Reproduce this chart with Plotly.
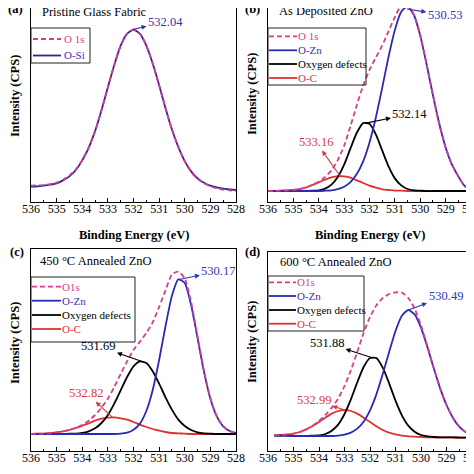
import plotly.graph_objects as go

W = H = 474
FONT = "Liberation Serif"

# ---------------- data (intensity in arbitrary units) -------------
energy = [536.0, 535.75, 535.5, 535.25, 535.0, 534.75, 534.5, 534.25, 534.0, 533.75,
          533.5, 533.25, 533.0, 532.75, 532.5, 532.25, 532.0, 531.75, 531.5, 531.25,
          531.0, 530.75, 530.5, 530.25, 530.0, 529.75, 529.5, 529.25, 529.0, 528.75,
          528.5, 528.25, 528.0]
energy_d = [535.75, 535.5, 535.25, 535.0, 534.75, 534.5, 534.25, 534.0, 533.75,
            533.5, 533.25, 533.0, 532.75, 532.5, 532.25, 532.0, 531.75, 531.5, 531.25,
            531.0, 530.75, 530.5, 530.25, 530.0, 529.75, 529.5, 529.25, 529.0, 528.75,
            528.5, 528.25, 528.0]

# (a) Pristine glass fabric
a_o1s = [49, 50, 51, 54, 58, 67, 80, 98, 126, 164, 213, 276, 345, 412, 470, 505, 517,
         505, 471, 416, 351, 282, 218, 165, 122, 90, 69, 56, 47, 41, 37, 35, 33]
a_osi = [46, 47, 49, 52, 56, 65, 77, 96, 125, 163, 213, 276, 345, 412, 470, 506, 518,
         505, 470, 416, 351, 282, 218, 165, 123, 92, 71, 58, 49, 44, 40, 38, 36]

# (b) As deposited ZnO
b_o1s = [33, 33, 34, 35, 36, 39, 44, 52, 61, 75, 95, 126, 169, 228, 291, 350, 397,
         434, 470, 513, 556, 590, 594, 564, 501, 414, 321, 235, 164, 112, 77, 48, 38]
b_ozn = [33, 33, 33, 33, 33, 33, 33, 33, 33, 34, 35, 39, 46, 60, 84, 122, 179,
         254, 343, 436, 517, 572, 588, 562, 500, 414, 321, 235, 164, 112, 77, 48, 38]
b_def = [33, 33, 33, 33, 33, 33, 33, 34, 35, 40, 52, 75, 112, 161, 208, 237, 235,
         203, 155, 107, 71, 50, 39, 35, 34, 33, 33, 33, 33, 33, 33, 33, 33]
b_oc = [33, 33, 34, 35, 36, 39, 44, 51, 59, 67, 74, 78, 77, 73, 65, 57, 49,
        43, 38, 36, 34, 34, 33, 33, 33, 33, 33, 33, 33, 33, 33, 33, 33]

# (c) 450 °C annealed ZnO
c_o1s = [51, 52, 52, 54, 56, 59, 64, 70, 79, 91, 108, 130, 157, 192, 231, 269, 303,
         328, 354, 386, 432, 482, 530, 538, 518, 446, 344, 240, 158, 104, 74, 60, 54]
c_ozn = [51, 51, 51, 51, 51, 51, 51, 51, 51, 51, 51, 51, 51, 51, 52, 55, 64,
         82, 120, 183, 273, 375, 466, 515, 504, 437, 339, 238, 157, 104, 74, 60, 54]
c_def = [51, 51, 51, 51, 51, 51, 52, 52, 54, 59, 68, 84, 108, 142, 182, 222, 254,
         269, 264, 239, 202, 161, 124, 94, 75, 63, 56, 53, 52, 51, 51, 51, 51]
c_oc = [51, 52, 52, 54, 56, 59, 63, 69, 76, 83, 91, 97, 100, 101, 98, 94, 87,
        79, 72, 66, 61, 57, 54, 53, 52, 51, 51, 51, 51, 51, 51, 51, 51]

# (d) 600 °C annealed ZnO
d_o1s = [47, 48, 50, 52, 57, 65, 76, 90, 108, 130, 157, 195, 242, 297, 354, 402,
         437, 459, 471, 476, 475, 459, 427, 377, 314, 249, 188, 138, 100, 73, 57, 48]
d_ozn = [46, 46, 46, 45, 45, 45, 45, 45, 45, 45, 46, 49, 55, 67, 88, 122,
         170, 231, 297, 360, 406, 423, 410, 370, 312, 248, 188, 138, 100, 73, 57, 48]
d_def = [46, 46, 46, 45, 45, 45, 46, 47, 51, 61, 79, 111, 155, 206, 252, 279,
         279, 250, 203, 151, 107, 76, 58, 48, 44, 42, 41, 41, 41, 40, 40, 40]
d_oc = [47, 48, 49, 52, 57, 65, 75, 87, 100, 112, 120, 123, 120, 112, 100, 87,
        74, 63, 55, 50, 46, 44, 43, 42, 41, 41, 41, 41, 41, 40, 40, 40]

# peak positions (eV) labelled in each panel
peaks_a = [532.04]
peaks_b = [530.53, 532.14, 533.16]
peaks_c = [530.17, 531.69, 532.82]
peaks_d = [530.49, 531.88, 532.99]

panel_titles = ["Pristine Glass Fabric", "As Deposited ZnO",
                "450 °C Annealed ZnO", "600 °C Annealed ZnO"]
panel_tags = ["(a)", "(b)", "(c)", "(d)"]
x_ticks = [536, 535, 534, 533, 532, 531, 530, 529, 528]
x_title = "Binding Energy (eV)"
y_title = "Intensity (CPS)"

# ---------------- styles -------------
C_O1S = "#d63e8c"
C_OSI = "#28289a"
C_OZN = "#2a2ab4"
C_DEF = "#000000"
C_OC = "#e03131"
C_LBL_BLUE = "#3434b0"
C_LBL_RED = "#d83a3a"
LW = 1.8


def px(x):
    return x / W


def py(y):
    return 1 - y / H


# panel geometry in pixels: (left, right, top, bottom), y-range top
geom = [
    (23, 228, 0, 194, 583),
    (260, 463, 0, 194, 583),
    (23, 228, 241, 443, 606),
    (260, 464, 244, 443, 597),
]

fig = go.Figure()

series = [
    [(a_o1s, "O 1s", C_O1S, True, energy), (a_osi, "O-Si", C_OSI, False, energy)],
    [(b_o1s, "O 1s", C_O1S, True, energy), (b_ozn, "O-Zn", C_OZN, False, energy),
     (b_def, "Oxygen defects", C_DEF, False, energy), (b_oc, "O-C", C_OC, False, energy)],
    [(c_o1s, "O1s", C_O1S, True, energy), (c_ozn, "O-Zn", C_OZN, False, energy),
     (c_def, "Oxygen defects", C_DEF, False, energy), (c_oc, "O-C", C_OC, False, energy)],
    [(d_o1s, "O1s", C_O1S, True, energy_d), (d_ozn, "O-Zn", C_OZN, False, energy_d),
     (d_def, "Oxygen defects", C_DEF, False, energy_d), (d_oc, "O-C", C_OC, False, energy_d)],
]

for i, group in enumerate(series):
    sfx = "" if i == 0 else str(i + 1)
    order = group[1:][::-1] + [group[0]] if i > 0 else [group[1], group[0]]
    for vals, name, col, dashed, xs in order:
        fig.add_trace(go.Scatter(
            x=xs, y=vals, mode="lines", name=name, showlegend=False,
            line=dict(color=col, width=LW, dash="5px,3px" if dashed else "solid",
                      shape="spline", smoothing=0.6),
            xaxis="x" + sfx, yaxis="y" + sfx, hoverinfo="skip"))

layout = dict(
    width=W, height=H, margin=dict(l=0, r=0, t=0, b=0, pad=0, autoexpand=False),
    paper_bgcolor="white", plot_bgcolor="white", showlegend=False,
    font=dict(family=FONT, color="black", size=12),
)

for i, (l, r, t, b, ytop) in enumerate(geom):
    sfx = "" if i == 0 else str(i + 1)
    layout["xaxis" + sfx] = dict(
        domain=[px(l), px(r)], anchor="y" + sfx, range=[536, 528], autorange=False,
        showline=True, linecolor="black", linewidth=1.2, mirror=(i >= 2),
        ticks="inside", ticklen=4, tickwidth=1, tickcolor="black",
        tickvals=x_ticks, ticktext=[str(v) for v in x_ticks],
        minor=dict(dtick=0.5, tick0=528, ticks="inside", ticklen=2, tickwidth=1,
                   tickcolor="black"),
        tickfont=dict(family=FONT, size=12, color="black"), ticklabelstandoff=-5,
        showgrid=False, zeroline=False, automargin=False, fixedrange=True,
    )
    layout["yaxis" + sfx] = dict(
        domain=[py(b), py(t)], anchor="x" + sfx, range=[0, ytop], autorange=False,
        showline=True, linecolor="black", linewidth=1.2, mirror=True,
        ticks="", showticklabels=False, showgrid=False, zeroline=False,
        automargin=False, fixedrange=True,
    )

shapes = []
annotations = []

# axis titles
xt_y = [227, 227, 474, 474]
yt_pos = [(7, 88), (244, 86), (7, 335), (244, 334)]
for i, (l, r, t, b, ytop) in enumerate(geom):
    annotations.append(dict(text=x_title, x=px((l + r) / 2), y=py(xt_y[i]),
                            xref="paper", yref="paper", showarrow=False,
                            xanchor="center", yanchor="middle",
                            font=dict(family=FONT, size=12.5, weight="bold", color="black")))
    annotations.append(dict(text=y_title, x=px(yt_pos[i][0]), y=py(yt_pos[i][1]),
                            xref="paper", yref="paper", showarrow=False, textangle=-90,
                            xanchor="center", yanchor="middle",
                            font=dict(family=FONT, size=12.5, weight="bold", color="black")))

# panel tags and titles
tag_pos = [(7, 1), (244, 1), (9, 244), (244, 244)]
title_pos = [(32, 4), (269, 3), (30, 253), (270, 254)]
for i in range(4):
    annotations.append(dict(text=panel_tags[i], x=px(tag_pos[i][0]), y=py(tag_pos[i][1]),
                            xref="paper", yref="paper", showarrow=False,
                            xanchor="center", yanchor="middle",
                            font=dict(family=FONT, size=12.5, weight="bold", color="black")))
    annotations.append(dict(text=panel_titles[i], x=px(title_pos[i][0]), y=py(title_pos[i][1]),
                            xref="paper", yref="paper", showarrow=False,
                            xanchor="left", yanchor="middle",
                            font=dict(family=FONT, size=12.5, color="black")))

# manual legends: box (l, t, r, b), line x0, x1, text x, entry rows
legends = [
    ((23, 20, 82, 55), 25, 53, 55, [31, 47.5]),
    ((260, 20, 358, 77), 261, 289, 289, [28.3, 42.3, 56, 70]),
    ((23, 269, 127, 334), 24, 53, 53, [278.7, 292.7, 307, 321]),
    ((260, 268, 356, 323), 261, 288, 288, [274.3, 288, 302, 315.7]),
]
for i, (box, lx0, lx1, tx, rows) in enumerate(legends):
    shapes.append(dict(type="rect", xref="paper", yref="paper",
                       x0=px(box[0]), x1=px(box[2]), y0=py(box[3]), y1=py(box[1]),
                       line=dict(color="#222222", width=1), fillcolor="rgba(0,0,0,0)"))
    for (vals, name, col, dashed, xs), ry in zip(series[i], rows):
        shapes.append(dict(type="line", xref="paper", yref="paper",
                           x0=px(lx0), x1=px(lx1), y0=py(ry), y1=py(ry),
                           line=dict(color=col, width=LW, dash="5px,3px" if dashed else "solid")))
        annotations.append(dict(text=name, x=px(tx), y=py(ry), xref="paper", yref="paper",
                                showarrow=False, xanchor="left", yanchor="middle", borderpad=0,
                                font=dict(family=FONT, size=11, color=(
                                    C_LBL_BLUE if col in (C_OZN, C_OSI) else col))))

# peak labels with arrows (arrowhead at the label end)
label_specs = [
    (0, peaks_a[0], a_osi, C_LBL_BLUE, 33, -8),
    (1, peaks_b[0], b_ozn, C_LBL_BLUE, 38, 6),
    (1, peaks_b[1], b_def, "black", 44, -9),
    (1, peaks_b[2], b_oc, C_LBL_RED, -24, -34),
    (2, peaks_c[0], c_ozn, C_LBL_BLUE, 38, -8),
    (2, peaks_c[1], c_def, "black", -43, -15),
    (2, peaks_c[2], c_oc, C_LBL_RED, -26, -24),
    (3, peaks_d[0], d_ozn, C_LBL_BLUE, 37, -14),
    (3, peaks_d[1], d_def, "black", -46, -15),
    (3, peaks_d[2], d_oc, C_LBL_RED, -31, -10),
]
for i, pk, vals, col, ax, ay in label_specs:
    sfx = "" if i == 0 else str(i + 1)
    ytop = geom[i][4]
    ypk = min(max(vals), ytop * 0.995)
    annotations.append(dict(
        text=f"{pk:.2f}", x=pk, y=ypk, xref="x" + sfx, yref="y" + sfx,
        showarrow=True, arrowside="start", startarrowhead=2, startarrowsize=0.9,
        arrowwidth=1.1, arrowcolor=col, ax=ax, ay=ay, standoff=0, startstandoff=0,
        font=dict(family=FONT, size=12.5, color=col)))

layout["shapes"] = shapes
layout["annotations"] = annotations
fig.update_layout(**layout)
fig.write_html("out.html")
